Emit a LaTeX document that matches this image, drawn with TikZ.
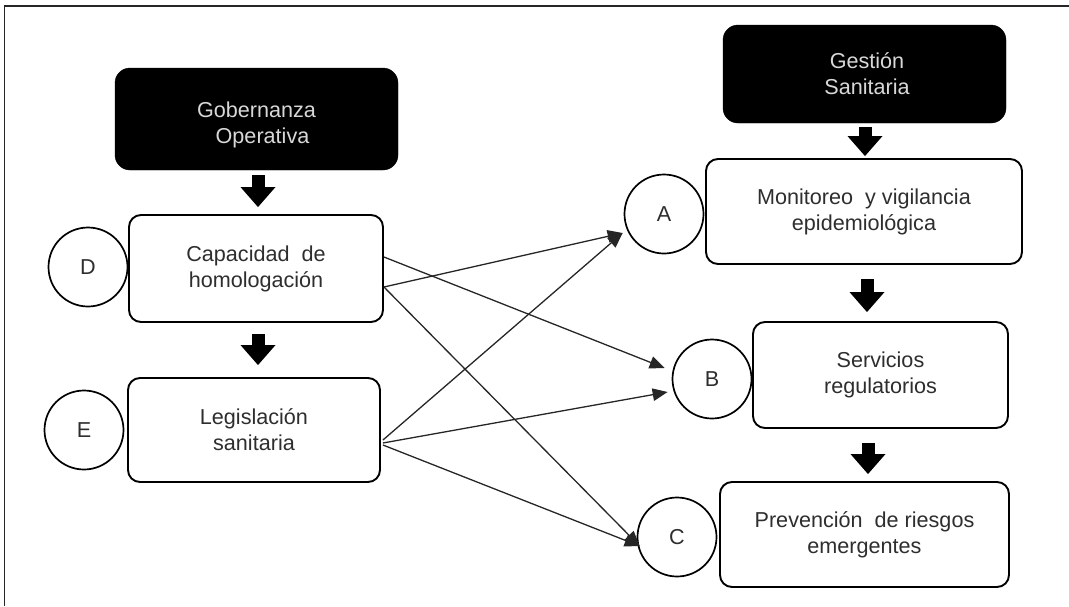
\documentclass[tikz,border=0pt]{standalone}
\usepackage{fontspec}
\setmainfont{Liberation Sans}
\usetikzlibrary{arrows.meta}
\definecolor{txt}{HTML}{2E2E2E}
\definecolor{wtxt}{HTML}{D8D8D8}
\begin{document}
\begin{tikzpicture}[x=1pt,y=-1pt,
  every node/.style={font=\fontsize{21.6}{26}\selectfont, align=center, inner sep=0pt},
  darkbox/.style={rectangle, rounded corners=15pt, fill=black, draw=black, text=wtxt},
  whitebox/.style={rectangle, rounded corners=12pt, draw=black, line width=1.9pt, fill=white, text=txt},
  letter/.style={circle, draw=black, line width=1.7pt, minimum size=79pt, text=txt},
  link/.style={draw=black!85, line width=1.3pt, -{Triangle[length=15pt,width=12.5pt]}},
  blk/.style={draw=black, line width=13pt, -{Triangle[length=20pt,width=35pt,line width=0pt]}}]
\useasboundingbox (0,0) rectangle (1069,606);
% frame
\draw[line width=1.5pt, draw=black!85] (4.5,606) -- (4.5,6) -- (1069,6);
% left column
\node[darkbox, minimum width=283pt, minimum height=102pt] (gob) at (256.5,119) {\parbox{200pt}{\centering\vspace*{12pt}Gobernanza\\\ \ Operativa}};
\node[whitebox, minimum width=254pt, minimum height=107pt] (cap) at (256,268.5) {Capacidad\ \ de\\homologación};
\node[whitebox, minimum width=252pt, minimum height=104pt] (leg) at (254,430) {Legislación\\sanitaria};
\node[letter] (D) at (88,267) {D};
\node[letter] (E) at (84,430) {E};
% right column
\node[darkbox, minimum width=283pt, minimum height=98pt] (ges) at (864.5,74) {\hspace*{5pt}Gestión\\\hspace*{5pt}Sanitaria};
\node[whitebox, minimum width=316pt, minimum height=105pt] (mon) at (864,211.5) {Monitoreo\ \ y vigilancia\\epidemiológica};
\node[whitebox, minimum width=255pt, minimum height=106pt] (ser) at (880.5,375) {Servicios\\regulatorios};
\node[whitebox, minimum width=289pt, minimum height=105pt] (pre) at (864.5,534.5) {Prevención\ \ de riesgos\\emergentes};
\node[letter] (A) at (664,214) {A};
\node[letter] (B) at (712,379) {B};
\node[letter] (C) at (677,537) {C};
% block arrows
\coordinate (lx) at (258,0);
\coordinate (rx1) at (865,0);
\coordinate (rx2) at (867,0);
\coordinate (rx3) at (868,0);
\draw[blk, shorten <=5pt, shorten >=7pt] (gob.south -| lx) -- (cap.north -| lx);
\draw[blk, shorten <=11pt, shorten >=12pt] (cap.south -| lx) -- (leg.north -| lx);
\draw[blk, shorten <=4pt, shorten >=2pt] (ges.south -| rx1) -- (mon.north -| rx1);
\draw[blk, shorten <=14pt, shorten >=9pt] (mon.south -| rx2) -- (ser.north -| rx2);
\draw[blk, shorten <=14pt, shorten >=7pt] (ser.south -| rx3) -- (pre.north -| rx3);
% links
\draw[link] ([yshift=11.5pt]cap.east) -- ([xshift=-7pt,yshift=11pt]B.west);
\draw[link] ([yshift=-18.5pt]cap.east) -- ([xshift=-1pt,yshift=-19pt]A.west);
\draw[link] ([yshift=-18.5pt]cap.east) -- ([xshift=3pt,yshift=-9pt]C.west);
\draw[link] ([xshift=2pt,yshift=-10pt]leg.east) -- ([xshift=-1pt,yshift=-19pt]A.west);
\draw[link] ([xshift=2pt,yshift=-13pt]leg.east) -- ([xshift=-4pt,yshift=-13pt]B.west);
\draw[link] ([xshift=2pt,yshift=-15pt]leg.east) -- ([xshift=3pt,yshift=-9pt]C.west);
\end{tikzpicture}
\end{document}
